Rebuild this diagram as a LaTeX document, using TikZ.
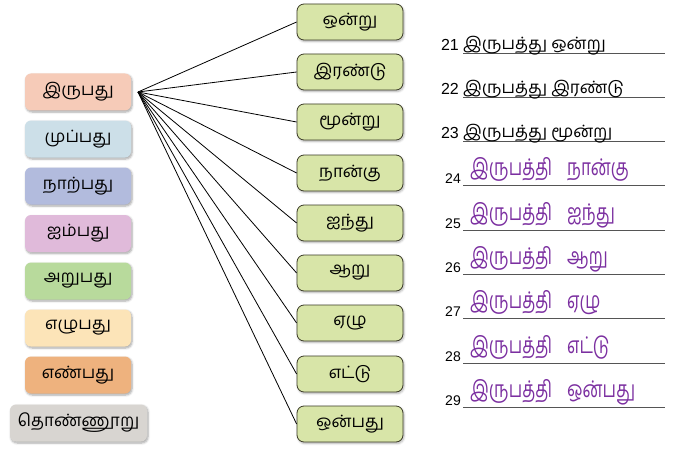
\documentclass[tikz,border=0pt]{standalone}
\usepackage{fontspec}
\setmainfont{Liberation Sans}
\newfontfamily\tamil[Script=Tamil]{Hind Madurai}
\newfontfamily\tamilnarrow[Script=Tamil,FakeStretch=0.74]{Hind Madurai}
\usetikzlibrary{shadows.blur}
\definecolor{cA}{HTML}{F6CBB8}
\definecolor{cB}{HTML}{CCDFE8}
\definecolor{cC}{HTML}{B2BBDD}
\definecolor{cD}{HTML}{E0BADA}
\definecolor{cE}{HTML}{B8DA9C}
\definecolor{cF}{HTML}{FCE4B8}
\definecolor{cG}{HTML}{EEB27E}
\definecolor{cH}{HTML}{D8D5D1}
\definecolor{midgreen}{HTML}{D8E5A8}
\definecolor{boxline}{HTML}{3C3C28}
\definecolor{purp}{HTML}{7B2FA0}
\definecolor{rule}{HTML}{555555}
\begin{document}
\begin{tikzpicture}[x=1pt,y=-1pt,
  lbox/.style={rounded corners=6pt, minimum width=106pt, minimum height=37pt, inner sep=0pt,
    font=\tamil\fontsize{17}{17}\selectfont,
    blur shadow={shadow blur steps=6, shadow xshift=1pt, shadow yshift=-1.5pt, shadow opacity=35}},
  mbox/.style={draw=boxline, line width=0.8pt, fill=midgreen, rounded corners=7pt,
    minimum width=106pt, minimum height=36pt, inner sep=0pt,
    font=\tamil\fontsize{17}{17}\selectfont,
    blur shadow={shadow blur steps=5, shadow xshift=1pt, shadow yshift=-1.5pt, shadow opacity=30}},
  fan/.style={draw=black, line width=0.8pt},
  num/.style={anchor=base east, inner sep=0pt, font=\fontsize{16}{16}\selectfont},
  numsm/.style={anchor=base east, inner sep=0pt, font=\fontsize{14}{14}\selectfont},
  ans/.style={anchor=base west, inner sep=0pt, font=\tamil\fontsize{17}{17}\selectfont},
  pans/.style={anchor=base west, inner sep=0pt, text=purp, font=\tamilnarrow\fontsize{23}{23}\selectfont},
  rl/.style={draw=rule, line width=0.9pt}
]
\useasboundingbox (0,0) rectangle (678,452);

% left boxes
\node[lbox, fill=cA] (l1) at (78,92) {இருபது};
\node[lbox, fill=cB] (l2) at (78,139) {முப்பது};
\node[lbox, fill=cC] (l3) at (78,186) {நாற்பது};
\node[lbox, fill=cD] (l4) at (78,233.5) {ஐம்பது};
\node[lbox, fill=cE] (l5) at (78,281) {அறுபது};
\node[lbox, fill=cF] (l6) at (78,328) {எழுபது};
\node[lbox, fill=cG] (l7) at (78,375) {எண்பது};
\node[lbox, fill=cH, minimum width=137pt] (l8) at (78.5,423) {தொண்ணூறு};

% middle boxes
\node[mbox] (m1) at (350,22) {ஒன்று};
\node[mbox] (m2) at (350,72) {இரண்டு};
\node[mbox] (m3) at (350,122) {மூன்று};
\node[mbox] (m4) at (350,173) {நான்கு};
\node[mbox] (m5) at (350,223) {ஐந்து};
\node[mbox] (m6) at (350,273) {ஆறு};
\node[mbox] (m7) at (350,323) {ஏழு};
\node[mbox] (m8) at (350,374) {எட்டு};
\node[mbox] (m9) at (350,424) {ஒன்பது};

% fan
\coordinate (hub) at (138,92);
\foreach \i in {1,...,9} { \draw[fan] (hub) -- (m\i.west); }

% answer rows 21-23
\coordinate (a1s) at (463,53); \coordinate (a1e) at (665,53);
\coordinate (a2s) at (463,97); \coordinate (a2e) at (665,97);
\coordinate (a3s) at (463,141); \coordinate (a3e) at (665,141);
\draw[rl] (a1s) -- (a1e);
\draw[rl] (a2s) -- (a2e);
\draw[rl] (a3s) -- (a3e);
\node[num] (n21) at (459,51) {21};
\node[num] (n22) at (459,95) {22};
\node[num] (n23) at (459,139) {23};
\node[ans] (t21) at (463,50) {இருபத்து ஒன்று};
\node[ans] (t22) at (463,94) {இருபத்து இரண்டு};
\node[ans] (t23) at (463,138) {இருபத்து மூன்று};

% answer rows 24-29
\foreach \k/\y/\w in {4/185/நான்கு, 5/230/ஐந்து, 6/274/ஆறு, 7/318/ஏழு, 8/363/எட்டு, 9/407/ஒன்பது} {
  \coordinate (b\k s) at (463,\y);
  \coordinate (b\k e) at (665,\y);
  \draw[rl] (b\k s) -- (b\k e);
  \node[numsm] (n2\k) at (461,\y-2) {2\k};
  \node[pans] (p2\k) at (470,\y-10) {இருபத்தி\hspace{15pt}\w};
}
\end{tikzpicture}
\end{document}
